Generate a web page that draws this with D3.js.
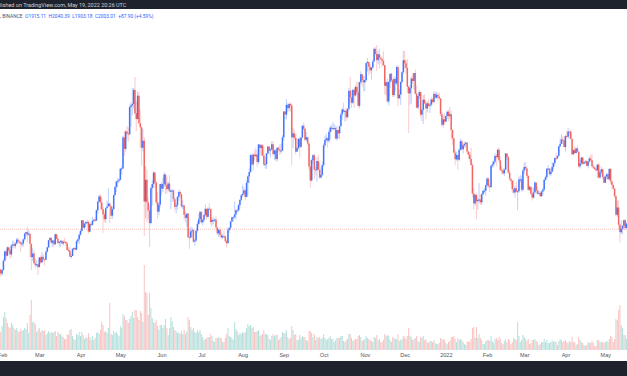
<!DOCTYPE html>
<html>
<head>
<meta charset="utf-8">
<script src="https://cdn.jsdelivr.net/npm/d3@7"></script>
<style>
  body { margin: 0; background: #fff; }
  svg { display: block; font-family: Roboto, "Liberation Sans", sans-serif; }
</style>
</head>
<body>
<svg width="627" height="376"></svg>
<script>
// ETH daily candles, 2021-01-30 .. 2022-05-19 (open = previous close)
const firstDay = '2021-01-30';
const firstOpen = 1382;

const close = [
  1377,1314,
  1369,1515,1660,1593,1722,1677,1613,1750,1768,1744,1783,1843,1814,1805,1779,1781,1848,1937,1960,1919,1935,1778,1571,1626,1474,1446,1459,1416,
  1565,1488,1575,1541,1533,1655,1723,1834,1870,1795,1827,1771,1924,1855,1792,1806,1824,1782,1810,1807,1782,1681,1669,1581,1588,1701,1712,1687,1817,1846,1918,
  1977,2143,2028,2092,2114,2116,1967,2083,2072,2135,2152,2138,2299,2432,2514,2422,2315,2235,2161,2331,2357,2402,2364,2214,2317,2534,2662,2746,2757,2773,
  2945,2949,3431,3253,3523,3490,3484,3903,3928,3952,4170,3807,3716,4080,3651,3588,3270,3380,2435,2773,2422,2296,2100,2643,2706,2885,2732,2420,2277,2388,2707,
  2634,2706,2855,2689,2628,2714,2593,2600,2608,2472,2353,2373,2508,2583,2549,2362,2373,2228,2180,2247,1880,1875,1971,1990,1811,1829,1982,2087,2160,2275,
  2113,2150,2226,2322,2197,2323,2316,2117,2148,2140,2154,2032,1940,1994,1917,1876,1898,1895,1820,1788,1995,2025,2125,2189,2191,2233,2299,2297,2382,2461,2531,
  2556,2609,2507,2725,2826,2891,3157,3012,3163,3141,3164,3049,3322,3266,3310,3150,3011,3017,3182,3288,3226,3244,3325,3173,3228,3095,3270,3245,3225,3225,3433,
  3834,3787,3937,3887,3951,3927,3433,3494,3426,3210,3265,3409,3285,3430,3613,3566,3397,3433,3335,2977,2762,3078,3155,2930,2924,3063,2928,2807,2849,3001,
  3308,3390,3418,3380,3516,3584,3563,3574,3577,3414,3545,3495,3606,3789,3865,3830,3846,3746,3876,4157,4055,3971,4170,4084,4217,4131,3923,4289,4414,4324,4287,
  4322,4586,4605,4530,4475,4518,4610,4807,4730,4632,4722,4665,4648,4623,4555,4233,4290,3990,4295,4420,4318,4091,4340,4271,4525,4039,4097,4294,4445,4631,
  4586,4512,4220,4116,4197,4347,4309,4432,4111,3894,4075,4136,3785,3861,4018,3960,3880,3960,3922,3940,4020,3982,4108,4049,4094,4066,4038,3794,3628,3713,3676,
  3765,3830,3762,3792,3548,3418,3195,3092,3157,3084,3238,3372,3247,3308,3330,3350,3213,3164,3096,3001,2560,2406,2539,2440,2458,2466,2423,2547,2600,2605,2688,
  2792,2677,2659,2990,3014,3056,3143,3124,3240,3075,2927,2916,2872,2931,3183,3124,2885,2790,2760,2625,2575,2642,2590,2596,2777,2781,2618,2919,
  2972,2950,2834,2618,2664,2556,2496,2576,2730,2606,2558,2568,2518,2590,2620,2772,2814,2945,2948,2860,2896,2971,3032,3109,3108,3146,3295,3331,3399,3385,3282,
  3452,3444,3522,3521,3410,3171,3233,3188,3262,3209,2982,3030,3118,3020,3042,3061,2990,3057,3104,3076,2985,2964,2938,2920,3008,2808,2890,2935,2817,2726,
  2824,2857,2782,2940,2747,2693,2636,2518,2230,2342,2074,1958,2013,2056,2145,2024,2090,1915,2003.01
];

const high = [
  1434,1384,
  1375,1540,1672,1695,1740,1736,1695,1778,1830,1820,1800,1870,1872,1830,1805,1826,1860,1950,1970,2041,1990,1940,1780,1710,1676,1552,1527,1468,
  1570,1597,1650,1622,1545,1669,1735,1837,1877,1880,1840,1840,1940,1935,1875,1817,1833,1842,1832,1870,1815,1810,1723,1740,1627,1704,1732,1720,1840,1863,1947,
  2000,2150,2145,2100,2130,2150,2140,2100,2105,2196,2160,2190,2318,2445,2545,2548,2500,2350,2280,2342,2450,2643,2420,2365,2357,2540,2675,2757,2797,2800,
  2950,2986,3457,3530,3541,3610,3587,3941,3980,4197,4200,4372,4000,4144,4140,3868,3600,3563,3438,2986,2942,2490,2382,2665,2764,2910,2890,2760,2580,2430,2715,
  2740,2800,2891,2857,2817,2743,2845,2620,2633,2620,2500,2408,2518,2613,2617,2552,2455,2380,2282,2260,2257,2011,2044,2036,2013,1856,1985,2130,2242,2284,
  2275,2160,2238,2390,2325,2350,2410,2322,2190,2190,2173,2208,2040,2005,2034,1965,1932,1985,1901,1840,2030,2040,2130,2200,2200,2430,2319,2343,2399,2468,2550,
  2700,2665,2630,2760,2843,2950,3170,3185,3180,3230,3270,3235,3330,3330,3320,3330,3290,3120,3190,3300,3305,3270,3375,3372,3250,3250,3280,3290,3325,3335,3470,
  3840,3840,4027,3972,3965,3980,3961,3580,3550,3480,3285,3420,3440,3438,3620,3666,3577,3513,3440,3355,3087,3103,3175,3167,2976,3118,3160,3043,2970,3055,
  3340,3460,3490,3440,3545,3619,3630,3672,3637,3610,3605,3548,3611,3820,3895,3970,3850,3890,3885,4200,4375,4169,4185,4200,4238,4295,4300,4300,4460,4410,4383,
  4390,4600,4665,4570,4570,4528,4636,4825,4835,4868,4778,4810,4705,4690,4770,4555,4300,4343,4305,4430,4440,4345,4380,4370,4555,4550,4179,4300,4460,4778,
  4778,4635,4650,4240,4237,4380,4423,4435,4486,4243,4080,4170,4140,3880,4090,4100,3990,3990,4030,3960,4055,4045,4150,4142,4140,4127,4128,4045,3830,3767,3810,
  3770,3850,3855,3900,3845,3554,3425,3237,3208,3175,3264,3412,3400,3340,3365,3365,3358,3215,3205,3270,3030,2642,2547,2560,2491,2723,2550,2564,2626,2644,2700,
  2815,2808,2700,3000,3060,3075,3185,3177,3258,3282,3140,2990,2950,2950,3190,3175,3150,2930,2790,2760,2775,2680,2745,2610,2820,2850,2832,2935,
  3040,3050,2987,2850,2685,2670,2640,2655,2750,2720,2664,2610,2592,2605,2648,2784,2837,2950,3000,2951,2948,3050,3040,3120,3195,3148,3300,3419,3482,3445,3445,
  3470,3530,3580,3535,3555,3410,3250,3300,3265,3305,3215,3080,3132,3130,3055,3075,3085,3066,3131,3165,3175,3010,2976,2950,3020,3036,2920,2980,2945,2850,
  2838,2885,2870,2955,2955,2758,2700,2640,2528,2453,2450,2095,2145,2070,2150,2160,2110,2095,2040.39
];

const low = [
  1320,1272,
  1290,1360,1506,1530,1580,1640,1550,1570,1715,1700,1707,1770,1790,1770,1650,1730,1735,1826,1890,1800,1900,1565,1371,1511,1460,1394,1430,1293,
  1411,1461,1485,1505,1440,1516,1640,1706,1826,1770,1731,1730,1758,1841,1770,1730,1730,1776,1750,1800,1737,1672,1651,1568,1546,1588,1672,1677,1680,1787,1772,
  1900,1960,2014,2003,2030,2080,1935,1960,2050,2060,2110,2110,2138,2252,2414,2300,2300,1950,2116,2100,2330,2370,2100,2163,2160,2308,2525,2580,2660,2720,
  2760,2855,2940,3145,3210,3400,3365,3460,3600,3780,3880,3784,3528,3713,3640,3270,2987,3215,1900,2172,2114,2160,1728,2078,2373,2650,2643,2390,2166,2220,2342,
  2530,2580,2660,2555,2557,2600,2580,2317,2430,2430,2300,2250,2311,2448,2490,2333,2317,2150,2112,2045,1862,1700,1870,1884,1795,1750,1812,1953,2072,2106,
  2091,2061,2118,2210,2156,2185,2307,2080,2050,2080,2113,2001,1914,1880,1884,1851,1855,1877,1795,1719,1780,1950,1986,2118,2115,2173,2151,2258,2270,2322,2440,
  2500,2540,2450,2495,2524,2717,2880,2990,2920,3065,3125,2975,3020,3160,3145,3140,2990,2950,2940,3170,3160,3120,3241,3145,3078,3060,3059,3205,3160,3180,3220,
  3387,3720,3712,3831,3840,3832,3000,3268,3387,3170,3210,3240,3124,3264,3415,3540,3370,3372,3304,2925,2650,2740,3023,2785,2840,2741,2920,2791,2798,2830,
  2972,3280,3360,3270,3345,3400,3515,3540,3556,3400,3379,3402,3408,3603,3710,3820,3678,3690,3720,3850,3958,3888,3950,3890,4063,4100,3900,3884,4260,4225,4150,
  4150,4300,4455,4400,4430,4330,4500,4609,4706,4460,4575,4500,4580,4520,4538,4100,4085,3967,3930,4200,4290,4060,4062,4150,4240,3920,4039,3937,4270,4420,
  4500,4428,4120,3500,3940,3958,4270,4180,4100,3885,3860,4030,3740,3684,3640,3950,3710,3820,3910,3810,3910,3940,3960,4035,4030,4000,4030,3760,3600,3585,3625,
  3675,3715,3685,3720,3400,3312,3186,3000,3068,2930,3060,3228,3230,3180,3277,3275,3160,3095,3053,2998,2500,2310,2375,2159,2310,2413,2380,2380,2532,2565,2522,
  2660,2645,2580,2645,2955,2975,3036,2985,3098,3040,2907,2857,2855,2830,2928,3080,2861,2750,2700,2570,2558,2500,2575,2300,2570,2731,2590,2591,
  2860,2915,2800,2600,2596,2542,2450,2480,2570,2550,2535,2554,2506,2503,2530,2593,2753,2780,2930,2840,2829,2889,2921,2990,3075,3090,3133,3280,3331,3335,3270,
  3210,3432,3412,3405,3405,3150,3153,3180,3183,3200,2950,2950,3000,3000,3015,3026,2986,2950,3030,3050,2960,2940,2923,2900,2800,2790,2790,2855,2783,2720,
  2720,2780,2770,2765,2704,2634,2615,2495,2200,2202,2010,1800,1930,1925,2005,1990,2015,1905,1903.18
];

// volume, relative units
const volume = [
  20,18,
  24,33,38,32,27,23,22,27,25,22,20,22,19,18,21,19,20,22,21,27,17,35,50,28,28,26,18,20,
  22,18,20,19,20,15,17,19,17,18,17,18,19,14,18,16,16,14,13,11,11,16,15,20,21,14,11,10,16,15,18,
  14,18,15,11,13,12,17,13,10,14,10,12,17,18,16,20,28,25,18,19,17,22,47,16,15,19,17,18,16,14,
  24,22,36,34,30,30,27,31,34,38,32,40,40,33,30,39,37,28,85,58,57,35,57,42,32,28,27,30,24,20,25,
  25,22,25,31,22,15,22,33,29,23,20,19,17,18,16,19,16,20,16,18,33,30,23,20,22,18,17,20,18,20,
  16,13,10,11,12,13,13,16,14,9,8,12,12,13,12,12,8,8,12,16,22,14,13,12,10,28,21,19,15,17,16,
  18,17,18,22,26,24,25,22,23,18,18,19,20,14,15,16,20,16,16,15,11,10,14,16,14,15,15,10,11,13,18,
  17,17,20,13,11,12,24,20,15,16,10,10,15,12,14,13,13,10,9,19,19,17,13,16,10,13,12,13,11,12,
  16,12,10,11,12,14,11,11,8,10,12,12,12,14,14,9,8,10,11,16,16,12,9,10,11,11,14,15,13,9,10,
  11,14,12,11,10,9,8,13,12,15,10,11,8,8,10,16,14,15,14,10,8,13,12,11,11,16,9,10,11,14,
  13,11,14,22,14,13,10,11,12,14,9,8,13,12,14,10,11,8,7,9,9,8,10,7,6,6,7,12,11,11,10,
  7,6,8,9,13,13,14,11,8,12,10,11,10,8,6,5,8,9,8,11,22,23,12,23,12,16,12,10,6,6,9,
  10,10,9,14,9,7,11,12,10,13,11,7,6,9,11,8,11,10,6,8,12,11,10,28,14,8,10,15,
  13,11,9,11,6,7,10,10,11,9,8,5,6,8,8,11,8,10,7,7,8,10,8,9,8,5,9,11,10,8,9,
  10,8,7,9,8,13,8,8,5,6,13,10,8,7,5,4,5,8,7,7,9,7,4,4,10,10,8,8,8,7,
  8,9,8,11,14,13,8,11,31,30,40,45,25,22,15,15,11,12,13
];

const tickDays = ['2021-02-01','2021-03-01','2021-04-01','2021-05-01','2021-06-01','2021-07-01','2021-08-01','2021-09-01',
                  '2021-10-01','2021-11-01','2021-12-01','2022-01-01','2022-02-01','2022-03-01','2022-04-01','2022-05-01'];
const tickLabels = ['Feb','Mar','Apr','May','Jun','Jul','Aug','Sep','Oct','Nov','Dec','2022','Feb','Mar','Apr','May'];

const headerText = 'lished on TradingView.com, May 19, 2022 20:26 UTC';
const legendSymbol = ', BINANCE';
const legendParts = ['O1915.11', 'H2040.39', 'L1903.18', 'C2003.01', '+87.90 (+4.59%)'];
const lastPrice = 2003.01;

const svg = d3.select('svg');
const width = +svg.attr('width');
const height = +svg.attr('height');

const upColor = '#2962ff';
const downColor = '#ef5350';

const parse = d3.utcParse('%Y-%m-%d');
const start = parse(firstDay);

const data = close.map((c, i) => ({
    date: d3.utcDay.offset(start, i),
    open: i ? close[i - 1] : firstOpen,
    high: high[i],
    low: low[i],
    close: c,
    volume: volume[i]
}));

const xscale = d3.scaleUtc()
    .domain([parse('2021-03-01'), parse('2022-05-01')])
    .range([39.3, 605.3]);

const yscale = d3.scaleLinear()
    .domain([lastPrice, 4868])
    .range([229.3, 45]);

const vscale = d3.scaleLinear()
    .domain([0, d3.max(volume)])
    .range([350, 265]);

// pane clip
svg.append('defs').append('clipPath').attr('id', 'pane')
    .append('rect').attr('x', 0).attr('y', 9).attr('width', width).attr('height', 341);

const pane = svg.append('g').attr('clip-path', 'url(#pane)');

// volume
pane.append('g').selectAll('rect')
    .data(data)
    .enter()
    .append('rect')
    .attr('x', d => xscale(d.date) - 0.5)
    .attr('width', 1)
    .attr('y', d => vscale(d.volume))
    .attr('height', d => 350 - vscale(d.volume))
    .attr('fill', d => d.close >= d.open ? 'rgba(38,166,154,0.35)' : 'rgba(239,83,80,0.35)');

// last price line
pane.append('line')
    .attr('x1', 0).attr('x2', width)
    .attr('y1', yscale(lastPrice)).attr('y2', yscale(lastPrice))
    .attr('stroke', '#ef5350').attr('stroke-opacity', 0.35)
    .attr('stroke-dasharray', '1,1');

// wicks
pane.append('g').selectAll('line')
    .data(data)
    .enter()
    .append('line')
    .attr('x1', d => xscale(d.date)).attr('x2', d => xscale(d.date))
    .attr('y1', d => yscale(d.high)).attr('y2', d => yscale(d.low))
    .attr('stroke', d => d.close >= d.open ? upColor : downColor)
    .attr('stroke-opacity', 0.3)
    .attr('stroke-width', 1);

// bodies
pane.append('g').selectAll('rect')
    .data(data)
    .enter()
    .append('rect')
    .attr('x', d => xscale(d.date) - 0.75)
    .attr('width', 1.5)
    .attr('y', d => yscale(Math.max(d.open, d.close)))
    .attr('height', d => Math.max(1, Math.abs(yscale(d.open) - yscale(d.close))))
    .attr('fill', d => d.close >= d.open ? upColor : downColor)
    .attr('fill-opacity', 0.85);

// time axis
const xaxisG = svg.append('g')
    .attr('transform', 'translate(0,350)')
    .call(d3.axisBottom(xscale)
        .tickValues(tickDays.map(parse))
        .tickFormat((d, i) => tickLabels[i])
        .tickSize(0)
        .tickPadding(3));

xaxisG.select('.domain').remove();
xaxisG.selectAll('text')
    .attr('fill', '#50535e')
    .style('font-size', '5.5px');

// dark bars top and bottom
svg.append('rect').attr('x', 0).attr('y', 0).attr('width', width).attr('height', 9).attr('fill', '#1e222d');
svg.append('rect').attr('x', 0).attr('y', 361).attr('width', width).attr('height', 15).attr('fill', '#1e222d');

// squeeze a text group horizontally so it spans the given width
const fitWidth = (g, w) => {
    const natural = g.node().getBBox().width;
    g.attr('transform', 'scale(' + (w / natural) + ',1)');
};

const headerG = svg.append('g');
headerG.append('text')
    .attr('x', 0).attr('y', 7)
    .attr('fill', '#d1d4dc')
    .style('font-size', '5.5px')
    .text(headerText);
fitWidth(headerG, 127);

// legend: symbol in grey, values in the up colour
const legendG = svg.append('g');
const legend = legendG.append('text')
    .attr('x', 0).attr('y', 18)
    .style('font-size', '5.5px');

legend.append('tspan')
    .attr('fill', '#50535e')
    .text(legendSymbol);

legendParts.forEach(p => {
    legend.append('tspan')
        .attr('fill', upColor)
        .text('\u00a0\u00a0' + p);
});
fitWidth(legendG, 154);
</script>
</body>
</html>
